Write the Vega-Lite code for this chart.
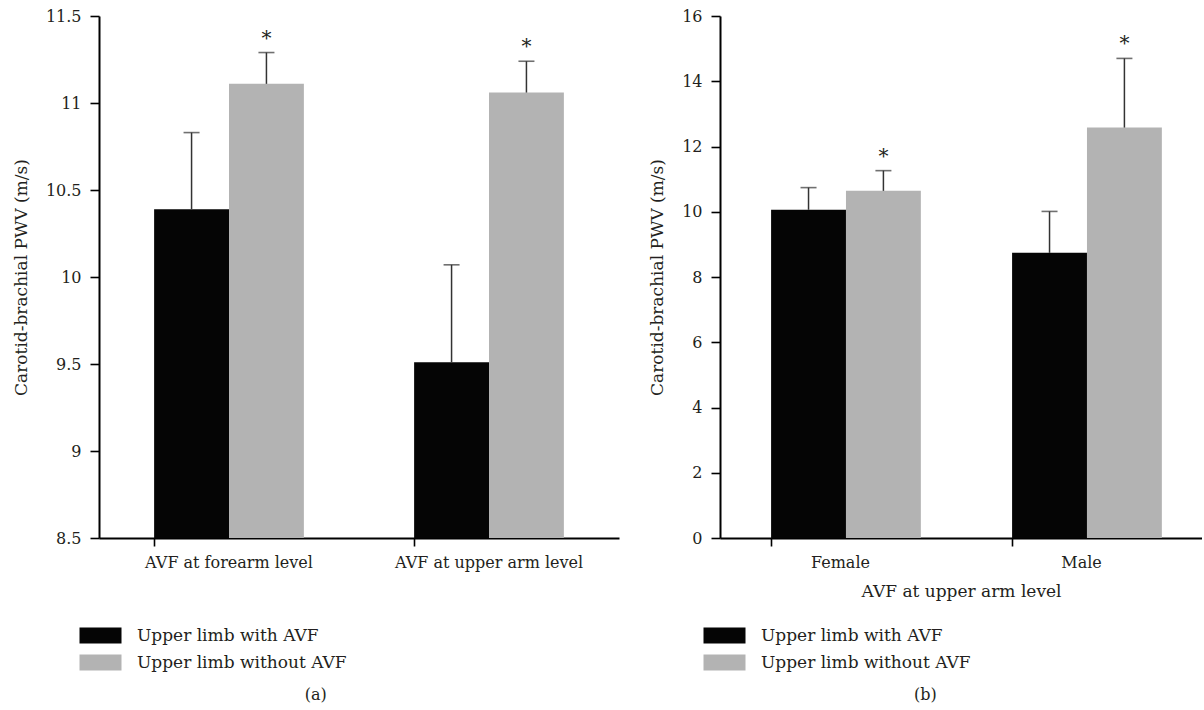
{
  "$schema": "https://vega.github.io/schema/vega-lite/v6.json",
  "padding": {"left": 12, "top": 8, "right": 0, "bottom": 0},
  "background": "white",
  "datasets": {
    "a": [
      {"group": "AVF at forearm level", "limb": "Upper limb with AVF", "pwv": 10.39, "hi": 10.83, "star": ""},
      {"group": "AVF at forearm level", "limb": "Upper limb without AVF", "pwv": 11.11, "hi": 11.29, "star": "*"},
      {"group": "AVF at upper arm level", "limb": "Upper limb with AVF", "pwv": 9.51, "hi": 10.07, "star": ""},
      {"group": "AVF at upper arm level", "limb": "Upper limb without AVF", "pwv": 11.06, "hi": 11.24, "star": "*"}
    ],
    "b": [
      {"group": "Female", "limb": "Upper limb with AVF", "pwv": 10.06, "hi": 10.74, "star": ""},
      {"group": "Female", "limb": "Upper limb without AVF", "pwv": 10.64, "hi": 11.26, "star": "*"},
      {"group": "Male", "limb": "Upper limb with AVF", "pwv": 8.74, "hi": 10.01, "star": ""},
      {"group": "Male", "limb": "Upper limb without AVF", "pwv": 12.58, "hi": 14.70, "star": "*"}
    ]
  },
  "config": {
    "font": "DejaVu Serif",
    "view": {"stroke": null},
    "axis": {
      "labelFont": "DejaVu Serif", "labelFontSize": 16, "labelColor": "#231f20", "labelLimit": 0,
      "titleFont": "DejaVu Serif", "titleFontSize": 17, "titleFontWeight": "normal", "titleColor": "#231f20",
      "domainColor": "#000000", "domainWidth": 2, "tickColor": "#000000", "tickWidth": 1.6, "tickSize": 9,
      "grid": false
    },
    "legend": {
      "labelFont": "DejaVu Serif", "labelFontSize": 17, "labelColor": "#231f20", "labelLimit": 0,
      "symbolType": "M-2.625,-1H2.625V1H-2.625Z", "symbolSize": 256, "symbolStrokeWidth": 0, "symbolOpacity": 1,
      "labelOffset": 28, "rowPadding": 9, "padding": 0, "title": null
    },
    "title": {"font": "DejaVu Serif", "fontSize": 16, "fontWeight": "normal", "color": "#231f20"}
  },
  "resolve": {"legend": {"color": "independent"}},
  "spacing": 29,
  "hconcat": [
    {
      "data": {"name": "a"},
      "width": 520,
      "height": 522,
      "title": {"text": "(a)", "orient": "bottom", "anchor": "middle", "frame": "bounds", "offset": 16},
      "encoding": {
        "x": {"field": "group", "type": "nominal", "title": null,
          "scale": {"paddingInner": 0.424, "paddingOuter": 0.212},
          "axis": {"labelAngle": 0, "bandPosition": 0, "tickSize": 8, "labelPadding": 8}},
        "xOffset": {"field": "limb", "type": "nominal", "scale": {"domain": ["Upper limb with AVF", "Upper limb without AVF"]}}
      },
      "layer": [
        {
          "mark": {"type": "bar", "clip": true},
          "encoding": {
            "y": {"field": "pwv", "type": "quantitative", "title": "Carotid-brachial PWV (m/s)",
              "scale": {"domain": [8.5, 11.5], "zero": false, "nice": false},
              "axis": {"values": [8.5, 9, 9.5, 10, 10.5, 11, 11.5], "format": "~g", "labelPadding": 9, "titlePadding": 15}},
            "color": {"field": "limb", "type": "nominal",
              "scale": {"domain": ["Upper limb with AVF", "Upper limb without AVF"], "range": ["#050505", "#b3b3b3"]},
              "legend": {"orient": "none", "legendX": -7, "legendY": 611, "direction": "vertical"}}
          }
        },
        {
          "mark": {"type": "rule", "color": "#333333", "strokeWidth": 1.5},
          "encoding": {"y": {"field": "pwv", "type": "quantitative"}, "y2": {"field": "hi"}}
        },
        {
          "mark": {"type": "tick", "color": "#333333", "thickness": 1.6, "size": 16},
          "encoding": {"y": {"field": "hi", "type": "quantitative"}}
        },
        {
          "mark": {"type": "text", "fontSize": 20, "dy": -8, "baseline": "alphabetic", "color": "#231f20"},
          "encoding": {"y": {"field": "hi", "type": "quantitative"}, "text": {"field": "star"}}
        }
      ]
    },
    {
      "data": {"name": "b"},
      "width": 482,
      "height": 522,
      "title": {"text": "(b)", "orient": "bottom", "anchor": "middle", "frame": "bounds", "offset": 16},
      "encoding": {
        "x": {"field": "group", "type": "nominal", "title": "AVF at upper arm level",
          "scale": {"paddingInner": 0.424, "paddingOuter": 0.212},
          "axis": {"labelAngle": 0, "bandPosition": 0, "tickSize": 8, "labelPadding": 8, "titlePadding": 13}},
        "xOffset": {"field": "limb", "type": "nominal", "scale": {"domain": ["Upper limb with AVF", "Upper limb without AVF"]}}
      },
      "layer": [
        {
          "mark": {"type": "bar"},
          "encoding": {
            "y": {"field": "pwv", "type": "quantitative", "title": "Carotid-brachial PWV (m/s)",
              "scale": {"domain": [0, 16], "nice": false},
              "axis": {"values": [0, 2, 4, 6, 8, 10, 12, 14, 16], "labelPadding": 9, "titlePadding": 15}},
            "color": {"field": "limb", "type": "nominal",
              "scale": {"domain": ["Upper limb with AVF", "Upper limb without AVF"], "range": ["#050505", "#b3b3b3"]},
              "legend": {"orient": "none", "legendX": -4, "legendY": 611, "direction": "vertical"}}
          }
        },
        {
          "mark": {"type": "rule", "color": "#333333", "strokeWidth": 1.5},
          "encoding": {"y": {"field": "pwv", "type": "quantitative"}, "y2": {"field": "hi"}}
        },
        {
          "mark": {"type": "tick", "color": "#333333", "thickness": 1.6, "size": 16},
          "encoding": {"y": {"field": "hi", "type": "quantitative"}}
        },
        {
          "mark": {"type": "text", "fontSize": 20, "dy": -8, "baseline": "alphabetic", "color": "#231f20"},
          "encoding": {"y": {"field": "hi", "type": "quantitative"}, "text": {"field": "star"}}
        }
      ]
    }
  ]
}
